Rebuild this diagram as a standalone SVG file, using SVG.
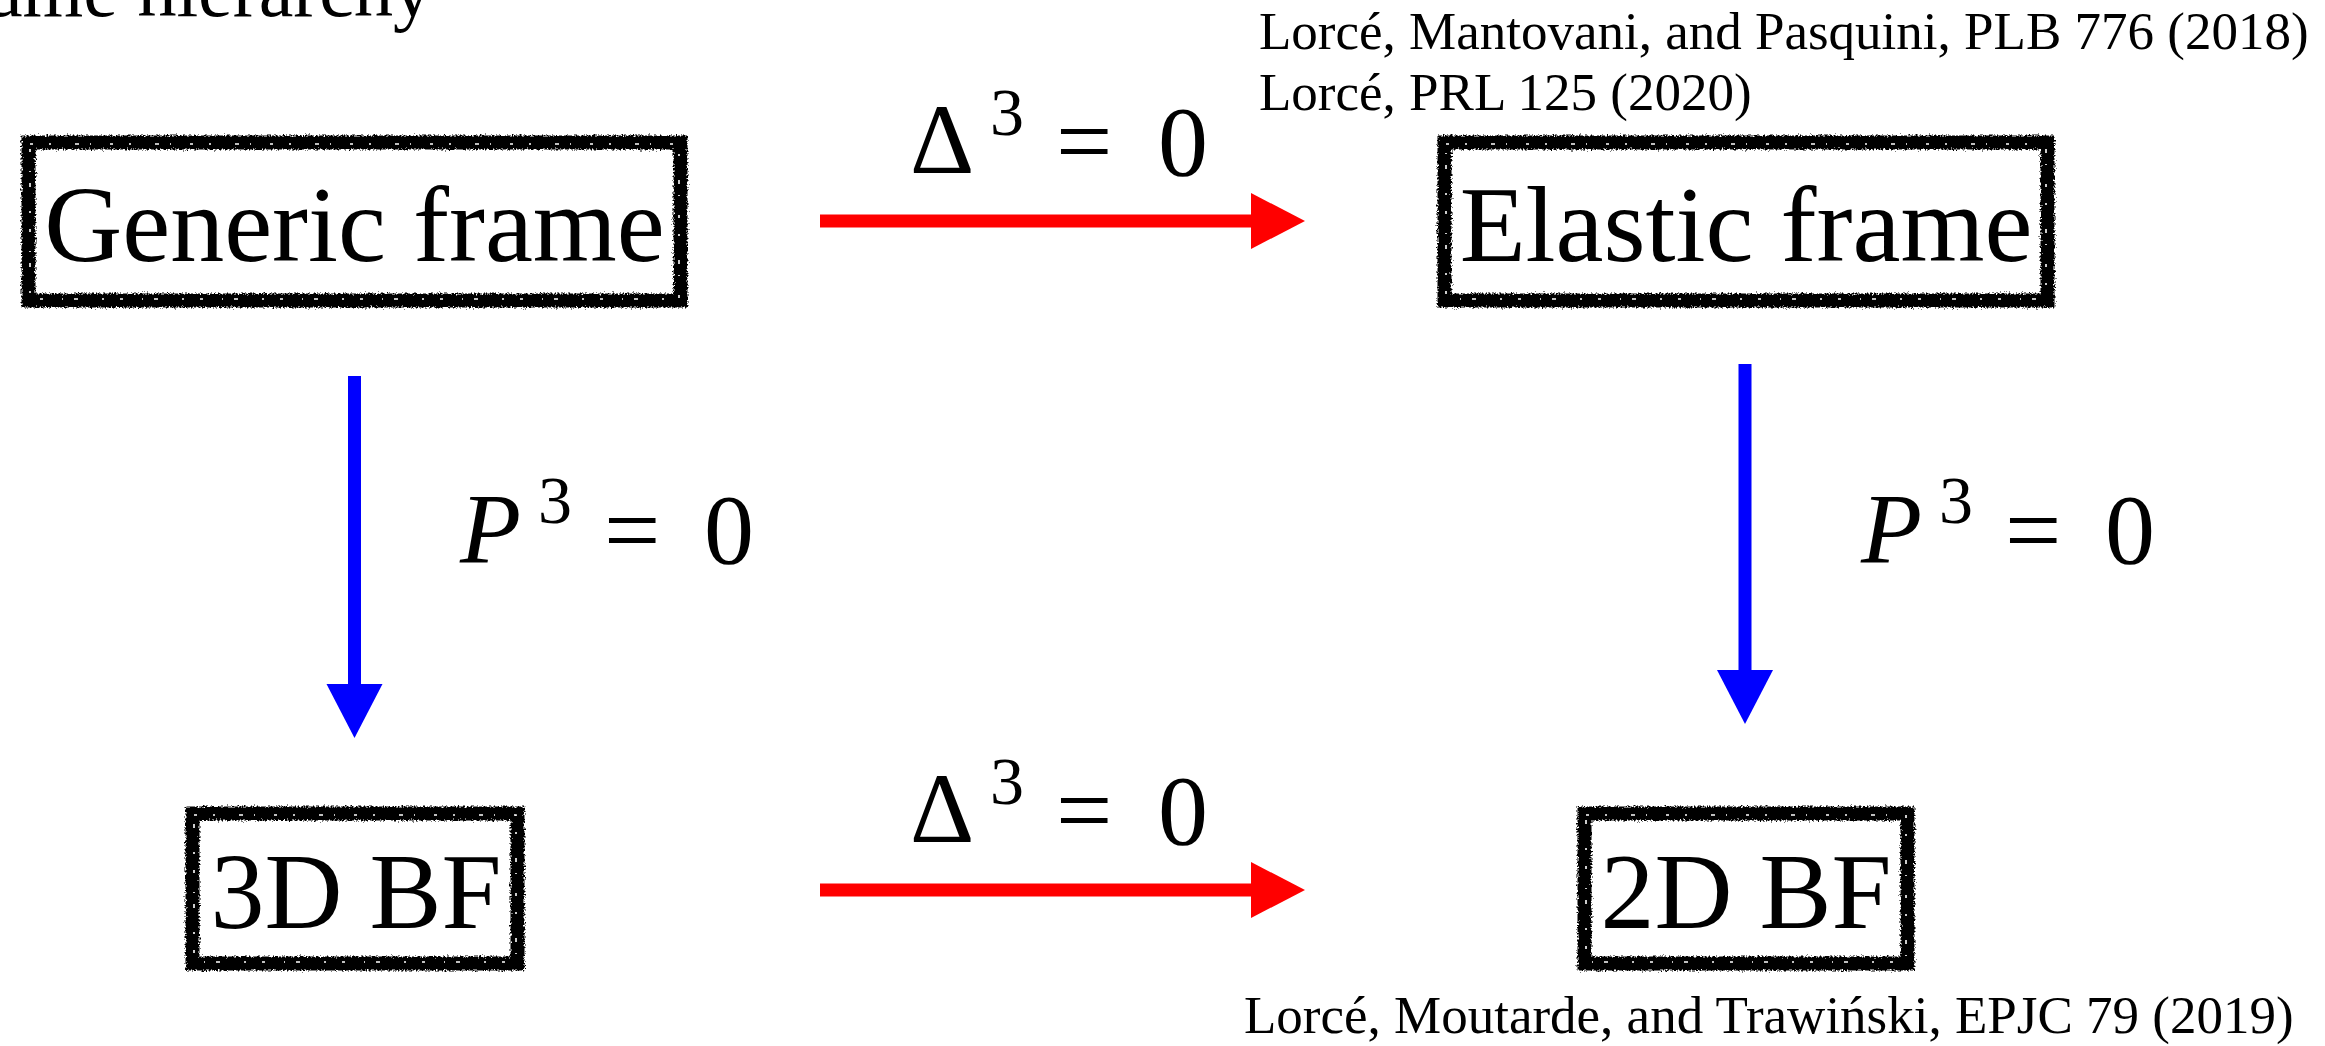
<svg xmlns="http://www.w3.org/2000/svg" width="2325" height="1046" viewBox="0 0 2325 1046">
  <defs>
    <style>
      .serif { font-family: "Liberation Serif", "Times New Roman", serif; fill: #000; }
      .node-text { font-size: 108px; text-anchor: middle; }
      .ref { font-size: 53px; }
      .math { font-size: 100px; }
      .sup { font-size: 68px; }
      .ital { font-style: italic; }
      .frame { fill: none; stroke: #000; stroke-width: 14; filter: url(#rough); }
      .frame-speck { fill: none; stroke: #fff; stroke-width: 1.6; stroke-dasharray: 3 16 2 24 4 11 1 19; }
      .red { stroke: #ff0000; stroke-width: 13; fill: none; }
      .blue { stroke: #0000ff; stroke-width: 13; fill: none; }
    </style>
    <filter id="rough" x="-5%" y="-10%" width="110%" height="120%">
      <feTurbulence type="fractalNoise" baseFrequency="0.55" numOctaves="2" seed="7" result="n"/>
      <feDisplacementMap in="SourceGraphic" in2="n" scale="6" xChannelSelector="R" yChannelSelector="G"/>
    </filter>
    <marker id="head-red" markerUnits="userSpaceOnUse" markerWidth="56" markerHeight="58" refX="0" refY="28" orient="auto">
      <path d="M0,0 L54,28 L0,56 z" fill="#ff0000"/>
    </marker>
    <marker id="head-blue" markerUnits="userSpaceOnUse" markerWidth="56" markerHeight="58" refX="0" refY="28" orient="auto">
      <path d="M0,0 L54,28 L0,56 z" fill="#0000ff"/>
    </marker>
  </defs>

  <rect width="2325" height="1046" fill="#fff"/>

  <!-- cut-off title -->
  <text class="serif" x="-12" y="16" font-size="78">ame hierarchy</text>

  <!-- references -->
  <g id="refs">
    <text class="serif ref" x="1259" y="49">Lorcé, Mantovani, and Pasquini, PLB 776 (2018)</text>
    <text class="serif ref" x="1259" y="110">Lorcé, PRL 125 (2020)</text>
    <text class="serif ref" x="1244" y="1033">Lorcé, Moutarde, and Trawiński, EPJC 79 (2019)</text>
  </g>

  <!-- nodes -->
  <g id="node-generic">
    <rect class="frame" x="28.5" y="142.5" width="652" height="158"/>
    <rect class="frame-speck" x="30" y="144" width="649" height="155"/>
    <text class="serif node-text" x="354.5" y="261">Generic frame</text>
  </g>
  <g id="node-elastic">
    <rect class="frame" x="1444.5" y="142.5" width="603" height="158"/>
    <rect class="frame-speck" x="1446" y="144" width="600" height="155"/>
    <text class="serif node-text" x="1746" y="261">Elastic frame</text>
  </g>
  <g id="node-3dbf">
    <rect class="frame" x="192.5" y="813.5" width="325" height="150"/>
    <rect class="frame-speck" x="194" y="815" width="322" height="147"/>
    <text class="serif node-text" x="356" y="928">3D BF</text>
  </g>
  <g id="node-2dbf">
    <rect class="frame" x="1584.5" y="813.5" width="323" height="150"/>
    <rect class="frame-speck" x="1586" y="815" width="320" height="147"/>
    <text class="serif node-text" x="1746" y="928">2D BF</text>
  </g>

  <!-- connectors -->
  <g id="connectors">
    <line class="red" x1="820" y1="221" x2="1251" y2="221" marker-end="url(#head-red)"/>
    <line class="red" x1="820" y1="890" x2="1251" y2="890" marker-end="url(#head-red)"/>
    <line class="blue" x1="354.5" y1="376" x2="354.5" y2="684" marker-end="url(#head-blue)"/>
    <line class="blue" x1="1745" y1="364" x2="1745" y2="670" marker-end="url(#head-blue)"/>
  </g>

  <!-- connector labels -->
  <g id="label-top">
    <text class="serif math" x="910" y="173">Δ</text>
    <text class="serif sup" x="990" y="135">3</text>
    <text class="serif math" x="1056" y="175">=</text>
    <text class="serif math" x="1158" y="175">0</text>
  </g>
  <g id="label-bottom">
    <text class="serif math" x="910" y="842">Δ</text>
    <text class="serif sup" x="990" y="804">3</text>
    <text class="serif math" x="1056" y="844">=</text>
    <text class="serif math" x="1158" y="844">0</text>
  </g>
  <g id="label-left">
    <text class="serif math ital" x="460" y="562">P</text>
    <text class="serif sup" x="538" y="523">3</text>
    <text class="serif math" x="604" y="564">=</text>
    <text class="serif math" x="704" y="563">0</text>
  </g>
  <g id="label-right">
    <text class="serif math ital" x="1861" y="562">P</text>
    <text class="serif sup" x="1939" y="523">3</text>
    <text class="serif math" x="2005" y="564">=</text>
    <text class="serif math" x="2105" y="563">0</text>
  </g>
</svg>
